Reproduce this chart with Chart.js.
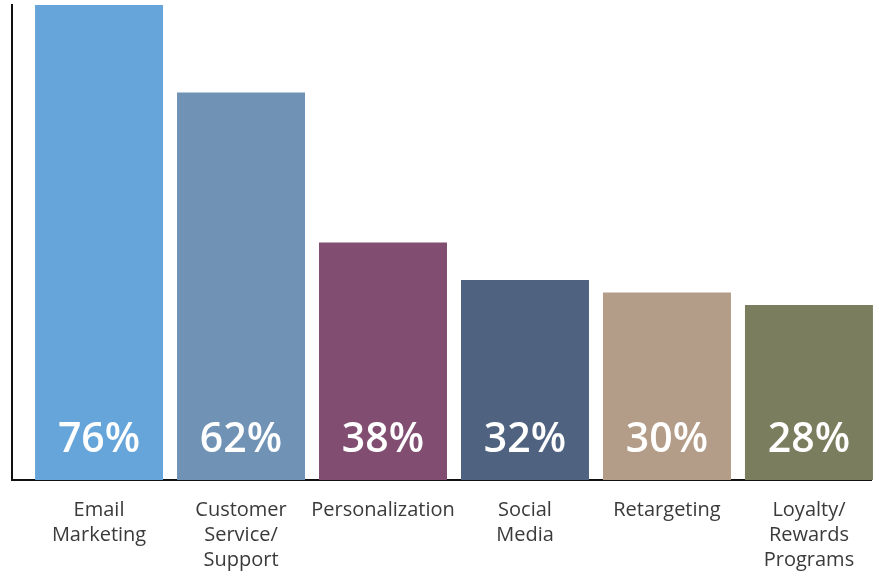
<!DOCTYPE html>
<html>
<head>
<meta charset="utf-8">
<script src="https://cdn.jsdelivr.net/npm/chart.js@4"></script>
<style>
  html, body { margin: 0; padding: 0; background: #fff; overflow: hidden; }
  #wrap { width: 877px; height: 575px; }
</style>
</head>
<body>
<div id="wrap"><canvas id="c" width="877" height="575"></canvas></div>
<script>
// Channel names, one per bar (arrays wrap onto several lines)
const categories = [
  ['Email', 'Marketing'],
  ['Customer', 'Service/', 'Support'],
  'Personalization',
  ['Social', 'Media'],
  'Retargeting',
  ['Loyalty/', 'Rewards', 'Programs']
];
// Share of respondents, in percent
const shares = [76, 62, 38, 32, 30, 28];
const barColors = ['#66A5DA', '#6F92B5', '#814E71', '#4F6380', '#B49D88', '#7A7D5E'];

// Writes each bar's percentage near its foot
const valueLabels = {
  id: 'valueLabels',
  afterDatasetsDraw(chart) {
    const ctx = chart.ctx;
    const meta = chart.getDatasetMeta(0);
    ctx.save();
    ctx.fillStyle = '#ffffff';
    ctx.font = '600 41px "Open Sans"';
    ctx.textAlign = 'center';
    ctx.textBaseline = 'alphabetic';
    meta.data.forEach((bar, i) => {
      ctx.fillText(shares[i] + '%', bar.x, bar.base - 28);
    });
    ctx.restore();
  }
};

new Chart(document.getElementById('c'), {
  type: 'bar',
  data: {
    datasets: [{
      data: shares.map((v, i) => ({ x: i, y: v })),
      backgroundColor: barColors,
      borderWidth: 0,
      barPercentage: 0.9014,
      categoryPercentage: 1,
      clip: false
    }]
  },
  options: {
    responsive: false,
    devicePixelRatio: 1,
    animation: false,
    layout: { padding: { left: 12, top: 5, right: 6, bottom: 0 } },
    plugins: { legend: { display: false }, tooltip: { enabled: false } },
    scales: {
      x: {
        type: 'linear',
        offset: false,
        min: -0.613,
        max: 5.437,
        grid: { display: false, drawTicks: false },
        border: { display: true, color: '#111111', width: 2 },
        afterFit: (scale) => { scale.height = 95; },
        ticks: {
          stepSize: 1,
          includeBounds: false,
          autoSkip: false,
          maxRotation: 0,
          minRotation: 0,
          padding: 18,
          color: '#3a3a3a',
          font: { family: 'Open Sans', size: 20, lineHeight: 1.25 },
          callback: (v) => categories[v] ?? ''
        }
      },
      y: {
        min: 0,
        max: 76,
        grid: { display: false, drawTicks: false },
        border: { display: true, color: '#111111', width: 2 },
        ticks: { display: false, padding: 0 }
      }
    }
  },
  plugins: [valueLabels]
});
</script>
</body>
</html>
